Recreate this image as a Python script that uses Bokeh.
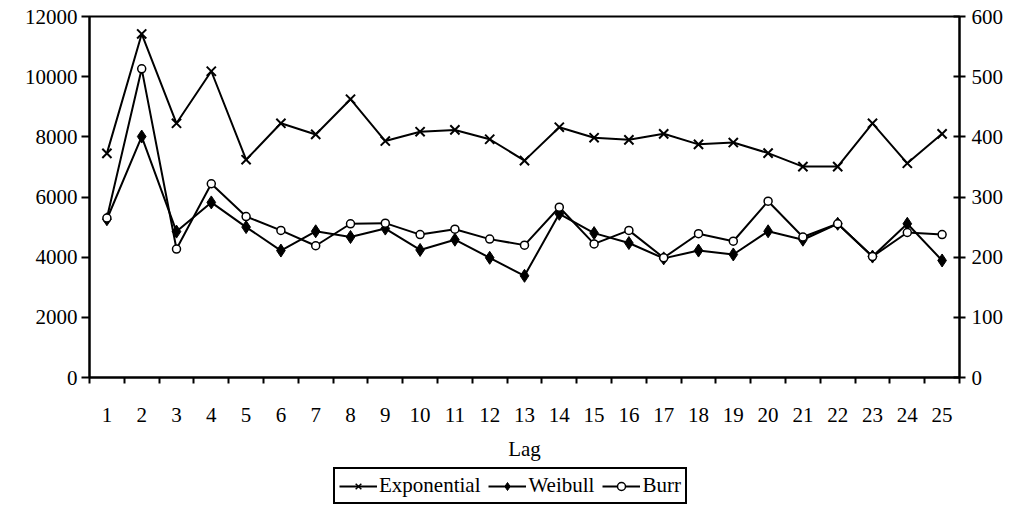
from bokeh.plotting import figure
from bokeh.models import (Range1d, LinearAxis, FixedTicker, Legend, LegendItem)
from bokeh.layouts import column
from bokeh.embed import file_html
from bokeh.resources import INLINE

lags = list(range(1, 26))
exponential = [7450, 11420, 8450, 10180, 7240, 8450, 8080, 9250, 7860, 8170,
               8230, 7920, 7210, 8320, 7970, 7900, 8100, 7750, 7810, 7460,
               7010, 7010, 8450, 7120, 8100]
weibull = [5260, 8010, 4850, 5820, 5000, 4220, 4860, 4670, 4950, 4240,
           4580, 3980, 3380, 5440, 4800, 4470, 3960, 4220, 4090, 4860,
           4580, 5110, 4020, 5110, 3890]
burr = [5300, 10260, 4270, 6440, 5350, 4890, 4380, 5110, 5130, 4750,
        4930, 4600, 4400, 5660, 4440, 4890, 3980, 4780, 4530, 5860,
        4670, 5110, 4020, 4820, 4750]
left_ticks = [0, 2000, 4000, 6000, 8000, 10000, 12000]
right_ticks = [0, 100, 200, 300, 400, 500, 600]
series_names = ["Exponential", "Weibull", "Burr"]

FONT = "Liberation Serif"
FS = "21px"

p = figure(width=1006, height=466, output_backend="svg", toolbar_location=None,
           x_range=Range1d(0.5, 25.5), y_range=Range1d(0, 12000),
           min_border_left=89, min_border_right=45, min_border_top=16,
           min_border_bottom=89)
p.grid.visible = False
p.outline_line_color = "black"
p.outline_line_width = 2
p.outline_line_alpha = 1
p.background_fill_color = "white"
p.border_fill_color = "white"


def style_axis(ax):
    ax.axis_line_width = 2
    ax.axis_line_color = "black"
    ax.major_tick_line_color = "black"
    ax.major_tick_line_width = 2
    ax.major_label_text_font = FONT
    ax.major_label_text_font_size = FS
    ax.major_label_text_color = "black"


# x axis
p.xaxis.ticker = FixedTicker(ticks=lags, minor_ticks=[i + 0.5 for i in range(0, 26)])
style_axis(p.xaxis[0])
p.xaxis.major_tick_line_color = None
p.xaxis.major_tick_out = 0
p.xaxis.major_tick_in = 0
p.xaxis.minor_tick_in = 0
p.xaxis.minor_tick_out = 6
p.xaxis.minor_tick_line_width = 2
p.xaxis.minor_tick_line_color = "black"
p.xaxis.major_label_standoff = 24
p.xaxis.axis_label = "Lag"
p.xaxis.axis_label_text_font = FONT
p.xaxis.axis_label_text_font_size = FS
p.xaxis.axis_label_text_font_style = "normal"
p.xaxis.axis_label_text_color = "black"
p.xaxis.axis_label_standoff = 12

# left y axis
p.yaxis.ticker = FixedTicker(ticks=left_ticks, minor_ticks=[])
style_axis(p.yaxis[0])
p.yaxis.major_tick_in = 0
p.yaxis.major_tick_out = 8
p.yaxis.major_label_standoff = 4

# right y axis
p.extra_y_ranges = {"right": Range1d(0, 600)}
ra = LinearAxis(y_range_name="right", ticker=FixedTicker(ticks=right_ticks, minor_ticks=[]))
style_axis(ra)
ra.major_tick_in = 6
ra.major_tick_out = 6
ra.major_label_standoff = 6
p.add_layout(ra, "right")

p.line(lags, exponential, line_color="black", line_width=2)
p.scatter(lags, exponential, marker="x", size=13, line_color="black", line_width=2)
p.line(lags, weibull, line_color="black", line_width=2)
p.scatter(lags, weibull, marker="diamond", size=13, fill_color="black", line_color="black")
p.line(lags, burr, line_color="black", line_width=2)
p.scatter(lags, burr, marker="circle", size=8, fill_color="white", line_color="black", line_width=1.5)

# legend strip below the chart (its sample glyphs sit outside the visible range)
q = figure(width=1006, height=40, output_backend="svg", toolbar_location=None,
           x_range=Range1d(0, 1), y_range=Range1d(0, 1),
           x_axis_type=None, y_axis_type=None,
           min_border_left=0, min_border_right=0, min_border_top=0, min_border_bottom=0)
q.grid.visible = False
q.outline_line_color = None
q.background_fill_color = "white"
q.border_fill_color = "white"
hx = [5, 6]
hy = [5, 5]
e1 = q.line(hx, hy, line_color="black", line_width=2)
e2 = q.scatter(hx, hy, marker="x", size=9, line_color="black", line_width=1.5)
w1 = q.line(hx, hy, line_color="black", line_width=2)
w2 = q.scatter(hx, hy, marker="diamond", size=9, fill_color="black", line_color="black")
b1 = q.line(hx, hy, line_color="black", line_width=2)
b2 = q.scatter(hx, hy, marker="circle", size=6, fill_color="white", line_color="black", line_width=1.5)

legend = Legend(items=[LegendItem(label=series_names[0], renderers=[e1, e2]),
                       LegendItem(label=series_names[1], renderers=[w1, w2]),
                       LegendItem(label=series_names[2], renderers=[b1, b2])],
                orientation="horizontal", location=(244, 2),
                label_text_font=FONT, label_text_font_size=FS,
                label_text_color="black",
                border_line_color="black", border_line_width=2, border_line_alpha=1,
                glyph_width=38, glyph_height=20, spacing=8, padding=4,
                margin=0, label_standoff=2, background_fill_alpha=1)
q.add_layout(legend, "center")

layout = column(p, q, spacing=0)
open("out.html", "w").write(file_html(layout, INLINE))
